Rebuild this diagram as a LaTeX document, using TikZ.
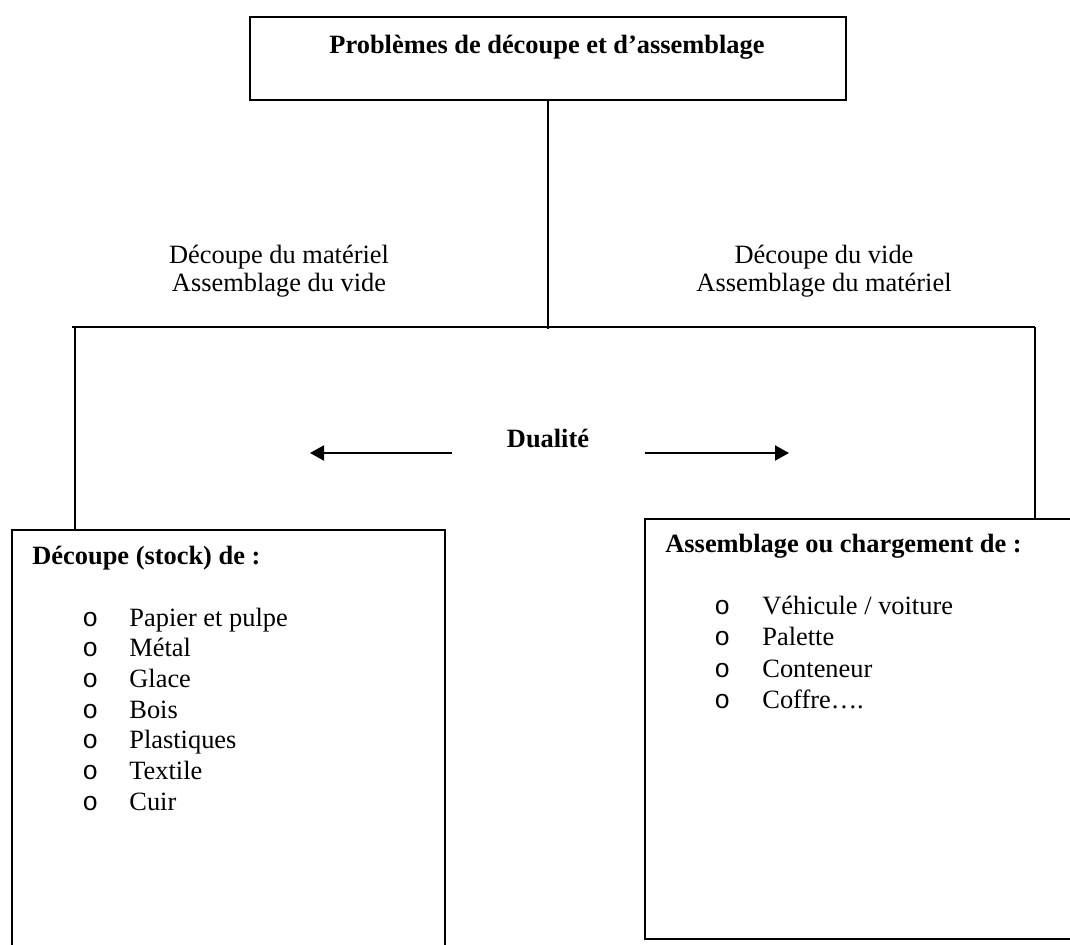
\documentclass[tikz,border=0pt]{standalone}
\usepackage{fontspec}
\setmainfont{Liberation Serif}
\newfontfamily\bulletfont{Liberation Mono}
\usetikzlibrary{arrows.meta}
\begin{document}
\begin{tikzpicture}[x=0.5pt,y=-0.5pt,
  conn/.style={draw,line width=1pt},
  box/.style={draw,line width=1pt,rectangle,inner sep=0pt,outer sep=0pt},
  txt/.style={font=\fontsize{13.2}{15.3}\selectfont,inner sep=0pt,anchor=base west},
  btxt/.style={txt,font=\fontsize{13.2}{15.3}\selectfont\bfseries},
  lbl/.style={font=\fontsize{13.2}{14}\selectfont,inner sep=0pt,align=center,anchor=base},
  bul/.style={font=\fontsize{13.2}{15.3}\bulletfont,inner sep=0pt,anchor=base west},
  dual/.style={conn,-{Triangle[length=7pt,width=7.5pt]}}
]
\useasboundingbox (0,0) rectangle (1070,945);
\clip (0,0) rectangle (1070,945);

% boxes
\node[box,minimum width=298pt,minimum height=41.5pt] (top) at (548,58.5) {};
\node[btxt,anchor=base] (title) at (547,54) {Problèmes de découpe et d’assemblage};

\node[box,minimum width=216.5pt,minimum height=217.5pt] (lbox) at (228.5,747.5) {};
\node[box,minimum width=222.5pt,minimum height=210pt] (rbox) at (867.5,729) {};

% tree connectors
\coordinate (J) at (548,329);
\coordinate (HL) at (72,327);
\coordinate (HR) at (1035,327);
\coordinate (VL) at (75,327);
\draw[conn] (top.south) -- (top.south |- J);
\draw[conn] (HL) -- (HR);
\draw[conn] (VL) -- (VL |- lbox.north);
\draw[conn] (HR) -- (HR |- rbox.north);

% branch labels
\node[lbl] (lab1) at (279,292) {Découpe du matériel\\Assemblage du vide};
\node[lbl] (lab2) at (824,292) {Découpe du vide\\Assemblage du matériel};

% duality
\node[btxt,anchor=base] (dual) at (548,448) {Dualité};
\coordinate (aLs) at (452,453);
\coordinate (aLe) at (310,453);
\coordinate (aRs) at (645,453);
\coordinate (aRe) at (789,453);
\draw[dual] (aLs) -- (aLe);
\draw[dual] (aRs) -- (aRe);

% left box content
\node[btxt] (lh) at (32,565) {Découpe (stock) de :};
\foreach \t [count=\i] in {Papier et pulpe,Métal,Glace,Bois,Plastiques,Textile,Cuir}{
  \node[bul] (lb\i) at (82,{626+30.7*(\i-1)}) {o};
  \node[txt] (li\i) at (129,{626+30.7*(\i-1)}) {\t};
}

% right box content
\node[btxt] (rh) at (665,553) {Assemblage ou chargement de :};
\foreach \t [count=\i] in {Véhicule / voiture,Palette,Conteneur,Coffre….}{
  \node[bul] (rb\i) at (714,{615+31*(\i-1)}) {o};
  \node[txt] (ri\i) at (762,{615+31*(\i-1)}) {\t};
}
\end{tikzpicture}
\end{document}
